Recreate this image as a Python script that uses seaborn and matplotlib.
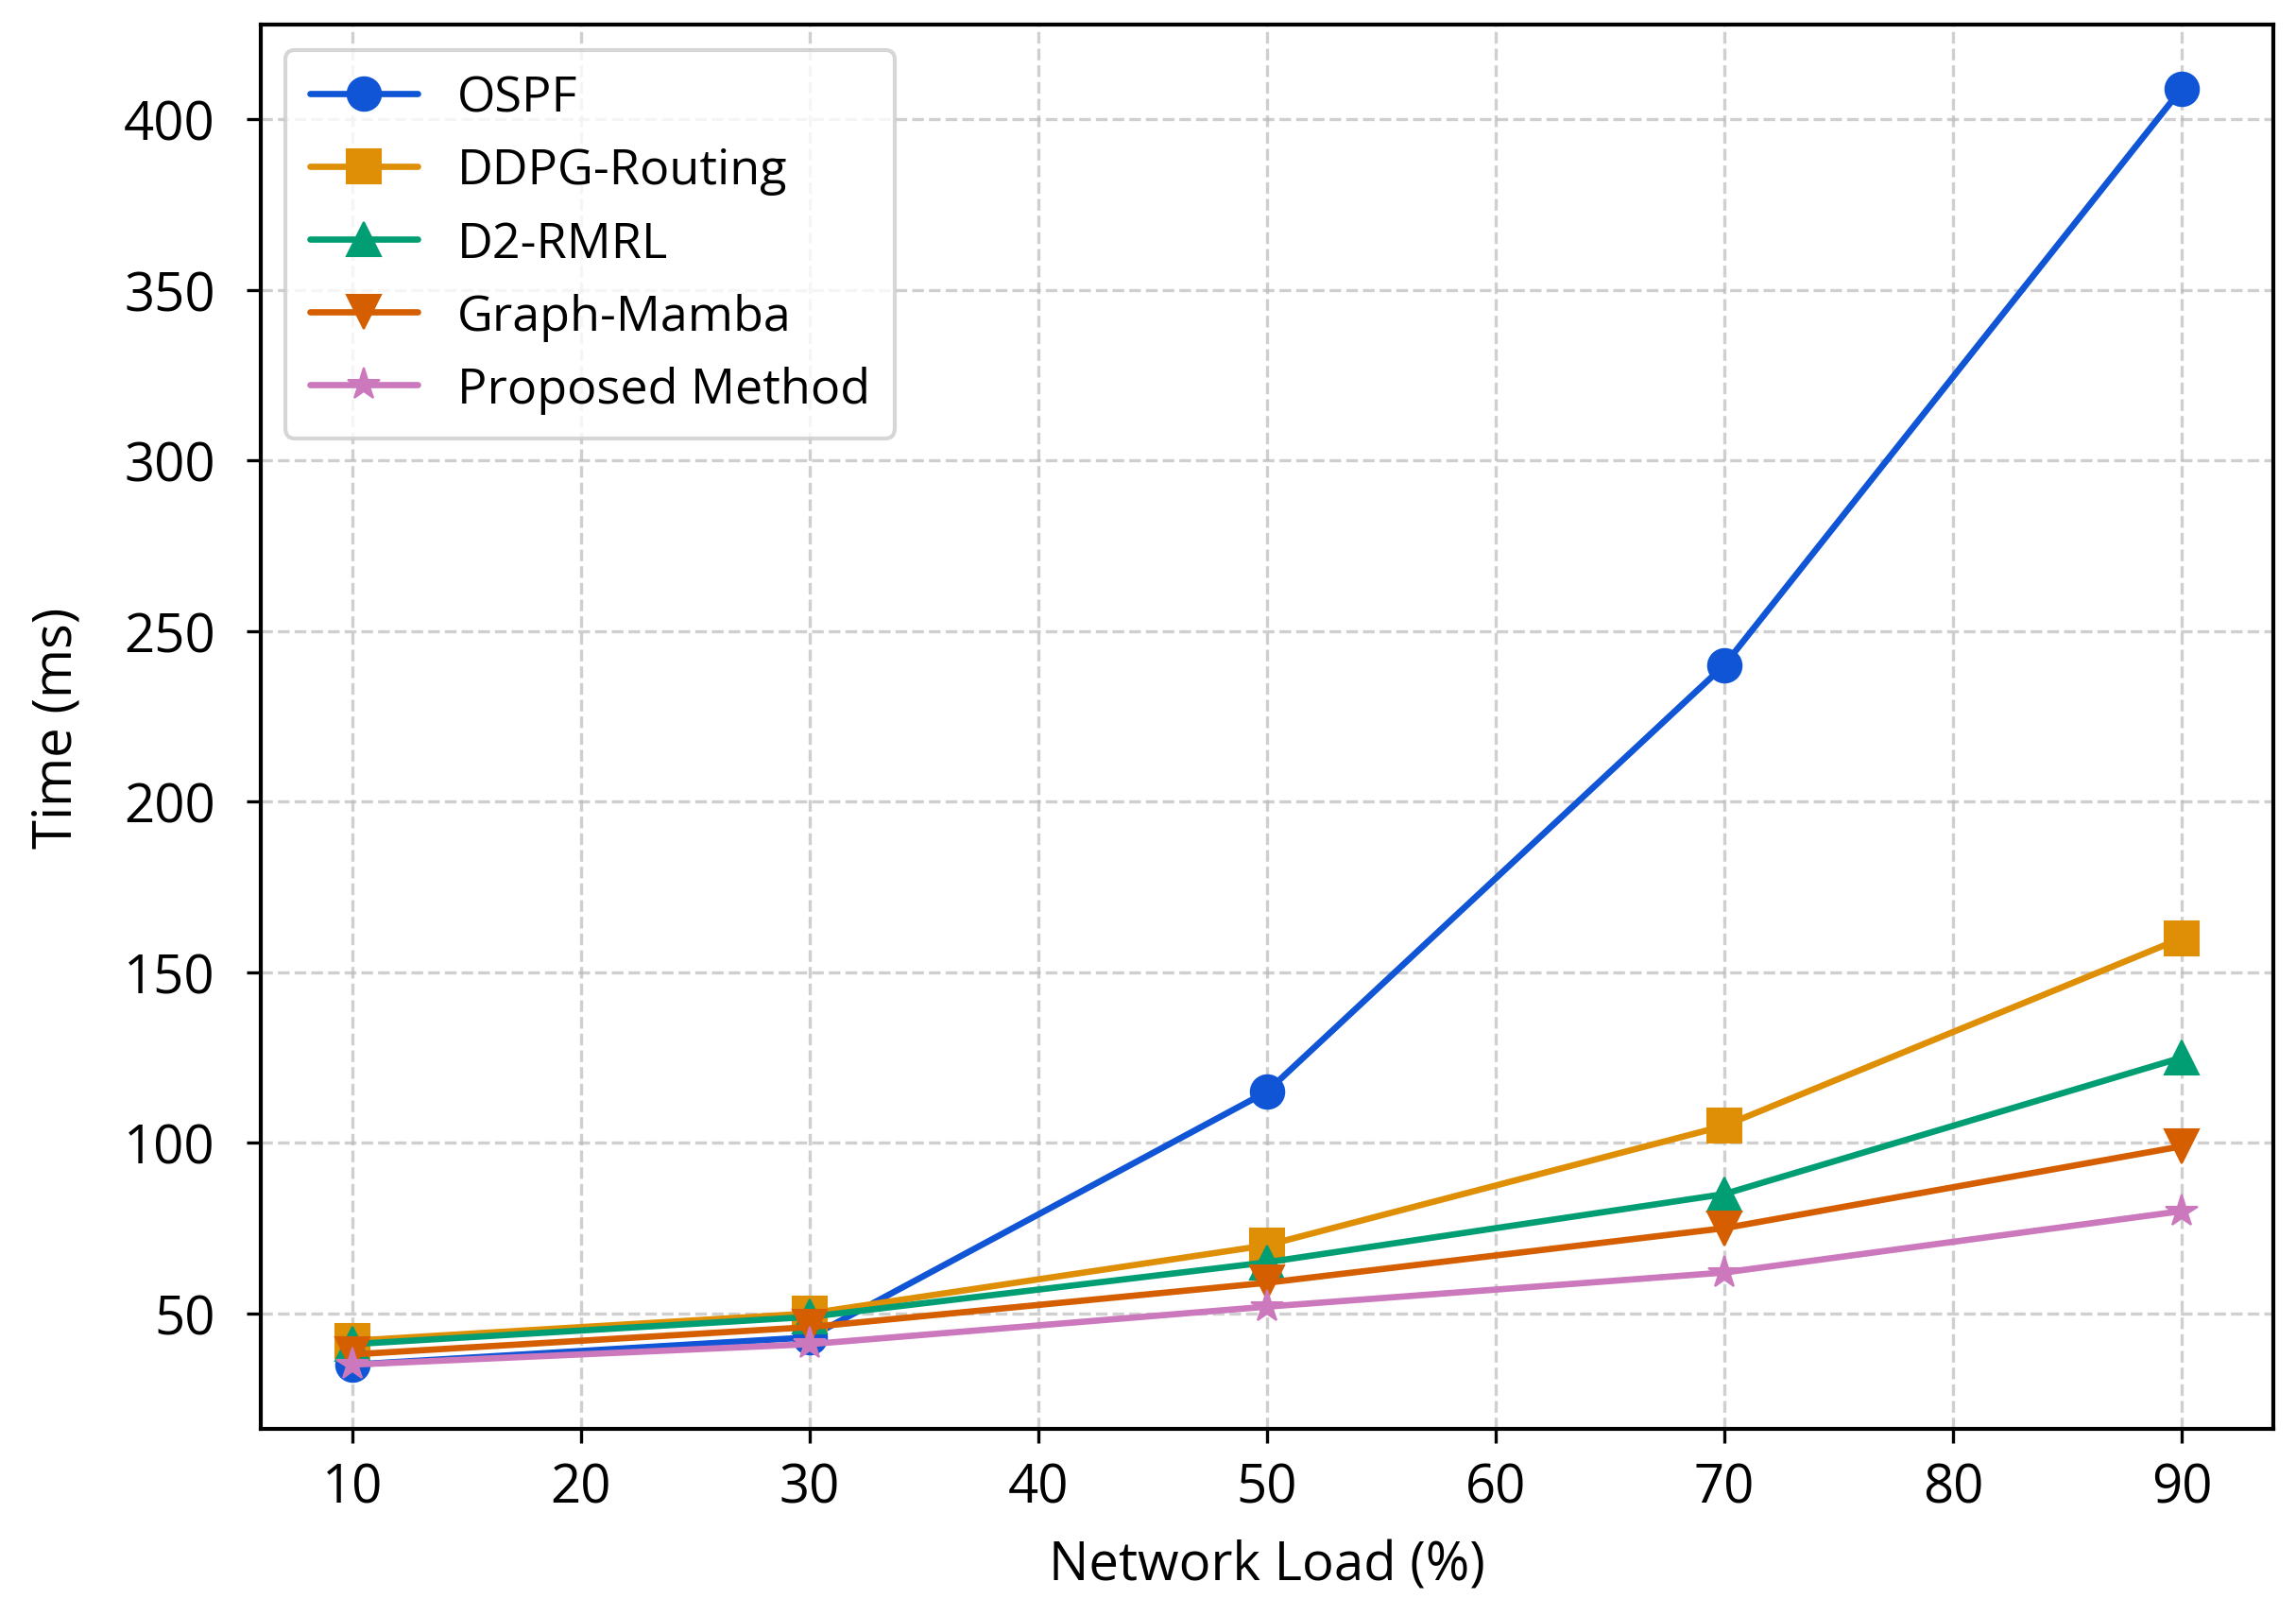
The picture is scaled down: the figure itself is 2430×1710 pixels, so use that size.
import pandas as pd
import numpy as np
import matplotlib
matplotlib.use("Agg")
import matplotlib.pyplot as plt
import seaborn as sns

# network load levels (%)
loads = [10, 30, 50, 70, 90]

# time in ms per method
ospf = [35, 43, 115, 240, 409]
ddpg = [42, 50, 70, 105, 160]
d2rmrl = [41, 49, 65, 85, 125]
graph_mamba = [38, 46, 59, 75, 99]
proposed = [35, 41, 52, 62, 80]

methods = ['OSPF', 'DDPG-Routing', 'D2-RMRL', 'Graph-Mamba', 'Proposed Method']
colors = ['#0f55d6', '#de8f05', '#029e73', '#d55e00', '#cc78bc']
markers = ['o', 's', '^', 'v', '*']

df = pd.DataFrame({
    'Network Load (%)': loads * 5,
    'Time (ms)': ospf + ddpg + d2rmrl + graph_mamba + proposed,
    'Method': np.repeat(methods, len(loads)),
})

sns.set_style('ticks')
plt.rcParams['font.family'] = ['Open Sans', 'DejaVu Sans']
plt.rcParams['text.color'] = 'black'
plt.rcParams['axes.labelcolor'] = 'black'
plt.rcParams['xtick.color'] = 'black'
plt.rcParams['ytick.color'] = 'black'

fig, ax = plt.subplots(figsize=(8.1, 5.703), dpi=300)
fig.subplots_adjust(left=0.1135, right=0.99, top=0.984, bottom=0.116)

sns.lineplot(data=df, x='Network Load (%)', y='Time (ms)', hue='Method',
             style='Method', hue_order=methods, style_order=methods,
             palette=dict(zip(methods, colors)),
             markers=dict(zip(methods, markers)), dashes=False,
             linewidth=1.6, markersize=8.5, ax=ax, legend=False)

# markers without the white edge
for line in ax.lines:
    line.set_markeredgecolor(line.get_color())
    line.set_markeredgewidth(0.5)

ax.grid(True, linestyle='--', color='#bbbbbb', alpha=0.7, linewidth=0.8)
for s in ax.spines.values():
    s.set_color('black')
    s.set_linewidth(1.0)

ax.set_xticks([10, 20, 30, 40, 50, 60, 70, 80, 90])
ax.set_yticks([50, 100, 150, 200, 250, 300, 350, 400])
ax.tick_params(labelsize=13.5, length=3.5, pad=5)
ax.tick_params(axis='y', pad=8)
ax.set_xlabel('Network Load (%)', fontsize=13.5, labelpad=6)
ax.set_ylabel('Time (ms)', fontsize=13.5, labelpad=10)

ax.legend(ax.lines, methods, loc='upper left', fontsize=12.5, frameon=True,
          framealpha=0.8, borderpad=0.5, handlelength=2.2)

plt.savefig('out.png', dpi=300)
plt.close()
